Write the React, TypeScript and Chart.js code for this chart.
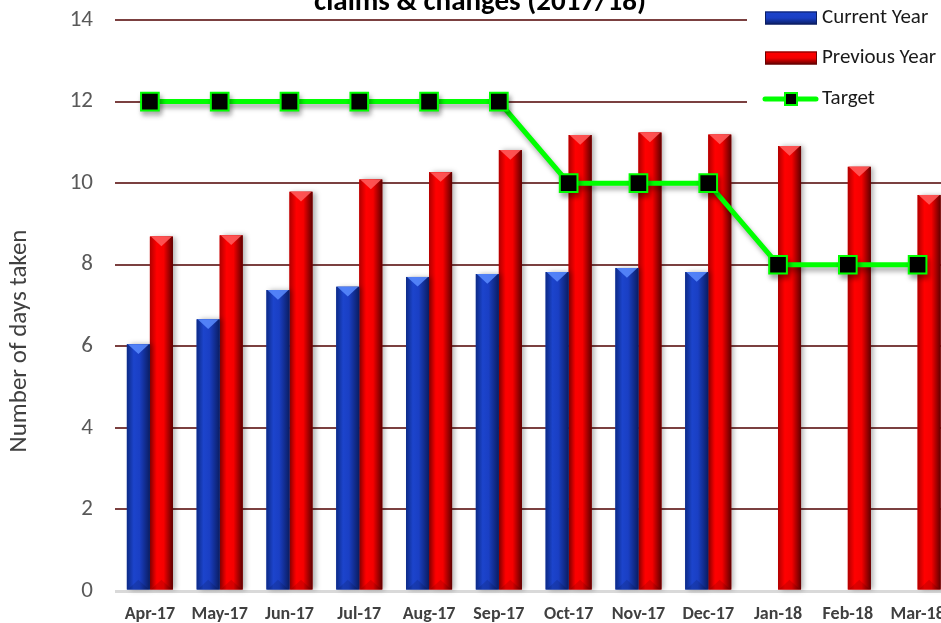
import { useEffect, useRef } from 'react';
import { Chart, registerables } from 'chart.js';

Chart.register(...registerables);

const categories = ['Apr-17', 'May-17', 'Jun-17', 'Jul-17', 'Aug-17', 'Sep-17', 'Oct-17', 'Nov-17', 'Dec-17', 'Jan-18', 'Feb-18', 'Mar-18'];
const currentYear: (number | null)[] = [6.05, 6.66, 7.38, 7.46, 7.7, 7.77, 7.82, 7.92, 7.82, null, null, null];
const previousYear = [8.69, 8.72, 9.79, 10.09, 10.27, 10.81, 11.18, 11.24, 11.19, 10.91, 10.4, 9.71];
const target = [12, 12, 12, 12, 12, 12, 10, 10, 10, 8, 8, 8];
const yMin = 0;
const yMax = 14;
const yStep = 2;
const seriesNames = ['Current Year', 'Previous Year', 'Target'];
const chartTitle = 'claims & changes (2017/18)';
const yAxisTitle = 'Number of days taken';

const FONT = 'Carlito, Lato, sans-serif';
const W = 967;
const H = 623;

const barPalettes: Record<number, { stops: [number, string][]; tri: string }> = {
  0: {
    stops: [[0, '#0c2a86'], [0.3, '#1c44cc'], [0.55, '#1a3fc4'], [1, '#0a1d62']],
    tri: 'rgba(90,140,255,0.85)',
  },
  1: {
    stops: [[0, '#b00000'], [0.3, '#ff0000'], [0.6, '#f50000'], [1, '#5e0000']],
    tri: 'rgba(255,90,90,0.9)',
  },
};

const stylePlugin = {
  id: 'stylePlugin',
  beforeDatasetsDraw(chart: any) {
    const ctx = chart.ctx as CanvasRenderingContext2D;
    ctx.save();
    ctx.fillStyle = '#ffffff';
    ctx.fillRect(747, 0, W - 747, 120);
    ctx.font = `21px ${FONT}`;
    ctx.textBaseline = 'middle';
    ctx.textAlign = 'left';
    const swatches = [
      { y: 18, stops: barPalettes[0].stops, edge: '#0a1d62' },
      { y: 58, stops: barPalettes[1].stops, edge: '#6a0000' },
    ];
    swatches.forEach((s, i) => {
      const g = ctx.createLinearGradient(0, s.y - 6.5, 0, s.y + 6.5);
      g.addColorStop(0, s.stops[1][1]);
      g.addColorStop(0.5, s.stops[2][1]);
      g.addColorStop(1, s.stops[3][1]);
      ctx.fillStyle = g;
      ctx.fillRect(765, s.y - 6.5, 52, 13);
      ctx.strokeStyle = s.edge;
      ctx.lineWidth = 1;
      ctx.strokeRect(765.5, s.y - 6, 51, 12);
      ctx.fillStyle = '#1a1a1a';
      ctx.fillText(seriesNames[i], 822, s.y);
    });
    ctx.strokeStyle = '#00ff00';
    ctx.lineWidth = 5;
    ctx.lineCap = 'round';
    ctx.beginPath();
    ctx.moveTo(765, 99);
    ctx.lineTo(816, 99);
    ctx.stroke();
    ctx.fillStyle = '#000';
    ctx.fillRect(785, 93, 12, 12);
    ctx.lineWidth = 2;
    ctx.strokeRect(785, 93, 12, 12);
    ctx.fillStyle = '#1a1a1a';
    ctx.fillText(seriesNames[2], 822, 99);
    ctx.restore();
  },
  beforeDatasetDraw(chart: any, args: any) {
    const ds = chart.data.datasets[args.index];
    if (ds.type === 'line') {
      const ctx = chart.ctx as CanvasRenderingContext2D;
      ctx.save();
      ctx.shadowColor = 'rgba(0,0,0,0.35)';
      ctx.shadowBlur = 5;
      ctx.shadowOffsetX = 2;
      ctx.shadowOffsetY = 4;
    }
  },
  afterDatasetDraw(chart: any, args: any) {
    const ds = chart.data.datasets[args.index];
    const ctx = chart.ctx as CanvasRenderingContext2D;
    if (ds.type === 'line') {
      ctx.restore();
      return;
    }
    const pal = barPalettes[args.index];
    if (!pal) return;
    args.meta.data.forEach((el: any, i: number) => {
      const v = ds.data[i];
      if (v === null || v === undefined) return;
      const { x, y, base, width } = el.getProps(['x', 'y', 'base', 'width'], true);
      const left = x - width / 2;
      const right = x + width / 2;
      const g = ctx.createLinearGradient(left, 0, right, 0);
      pal.stops.forEach(([o, c]) => g.addColorStop(o, c));
      ctx.save();
      ctx.shadowColor = 'rgba(0,0,0,0.3)';
      ctx.shadowBlur = 5;
      ctx.shadowOffsetX = 3;
      ctx.shadowOffsetY = 0;
      ctx.fillStyle = g;
      ctx.fillRect(left, y, width, base - y);
      ctx.restore();
      ctx.save();
      const th = Math.min(width * 0.42, (base - y) / 2);
      ctx.fillStyle = pal.tri;
      ctx.beginPath();
      ctx.moveTo(left + 1, y);
      ctx.lineTo(right - 1, y);
      ctx.lineTo(x, y + th);
      ctx.closePath();
      ctx.fill();
      ctx.fillStyle = 'rgba(0,0,0,0.12)';
      ctx.beginPath();
      ctx.moveTo(left + 1, base);
      ctx.lineTo(right - 1, base);
      ctx.lineTo(x, base - th);
      ctx.closePath();
      ctx.fill();
      ctx.restore();
    });
  },
  afterDraw(chart: any) {
    const ctx = chart.ctx as CanvasRenderingContext2D;
    ctx.save();
    ctx.fillStyle = '#000';
    ctx.font = `bold 29px ${FONT}`;
    ctx.textAlign = 'center';
    ctx.textBaseline = 'alphabetic';
    ctx.fillText(chartTitle, 480, 10);
    ctx.translate(20, 341);
    ctx.rotate(-Math.PI / 2);
    ctx.font = `25px ${FONT}`;
    ctx.fillStyle = '#404040';
    ctx.textBaseline = 'middle';
    ctx.fillText(yAxisTitle, 0, 0);
    ctx.restore();
  },
};

export default function App() {
  const ref = useRef<HTMLCanvasElement>(null);
  useEffect(() => {
    const chart = new Chart(ref.current!, {
      type: 'bar',
      data: {
        labels: categories,
        datasets: [
          {
            type: 'bar',
            label: seriesNames[0],
            data: currentYear,
            backgroundColor: '#1a3fc4',
            order: 1,
            categoryPercentage: 0.66,
            barPercentage: 1,
          },
          {
            type: 'bar',
            label: seriesNames[1],
            data: previousYear,
            backgroundColor: '#ff0000',
            order: 1,
            categoryPercentage: 0.66,
            barPercentage: 1,
          },
          {
            type: 'line',
            label: seriesNames[2],
            data: target,
            borderColor: '#00ff00',
            borderWidth: 5,
            backgroundColor: '#000000',
            pointBackgroundColor: '#000000',
            pointBorderColor: '#00ff00',
            pointBorderWidth: 2,
            pointStyle: 'rect',
            pointRadius: 12.5,
            tension: 0,
            order: 0,
          } as any,
        ],
      },
      options: {
        responsive: false,
        devicePixelRatio: 1,
        animation: false,
        layout: { padding: { top: 20, right: 0, bottom: 0, left: 0 } },
        plugins: {
          legend: { display: false },
          title: { display: false },
          tooltip: { enabled: false },
        },
        scales: {
          x: {
            offset: true,
            grid: { display: false, drawTicks: false },
            border: { display: false },
            ticks: {
              color: '#404040',
              font: { family: FONT, size: 18, weight: 'bold' },
              padding: 13,
              maxRotation: 0,
              autoSkip: false,
            },
            afterFit: (s: any) => {
              s.height = 32;
            },
          },
          y: {
            min: yMin,
            max: yMax,
            ticks: {
              stepSize: yStep,
              color: '#595959',
              font: { family: FONT, size: 23 },
              padding: 0,
            },
            grid: {
              drawTicks: true,
              tickLength: 22,
              tickColor: 'rgba(0,0,0,0)',
              color: (c: any) => (c.tick && c.tick.value === 0 ? '#d9d9d9' : '#7b4040'),
              lineWidth: (c: any) => (c.tick && c.tick.value === 0 ? 3 : 2),
            },
            border: { display: false },
            afterFit: (s: any) => {
              s.width = 115;
            },
          },
        },
      },
      plugins: [stylePlugin],
    } as any);
    return () => chart.destroy();
  }, []);
  return (
    <div style={{ position: 'fixed', left: 0, top: 0, width: 941, height: 623, overflow: 'hidden', background: '#fff' }}>
      <canvas ref={ref} width={W} height={H} style={{ display: 'block', width: W, height: H }} />
    </div>
  );
}
